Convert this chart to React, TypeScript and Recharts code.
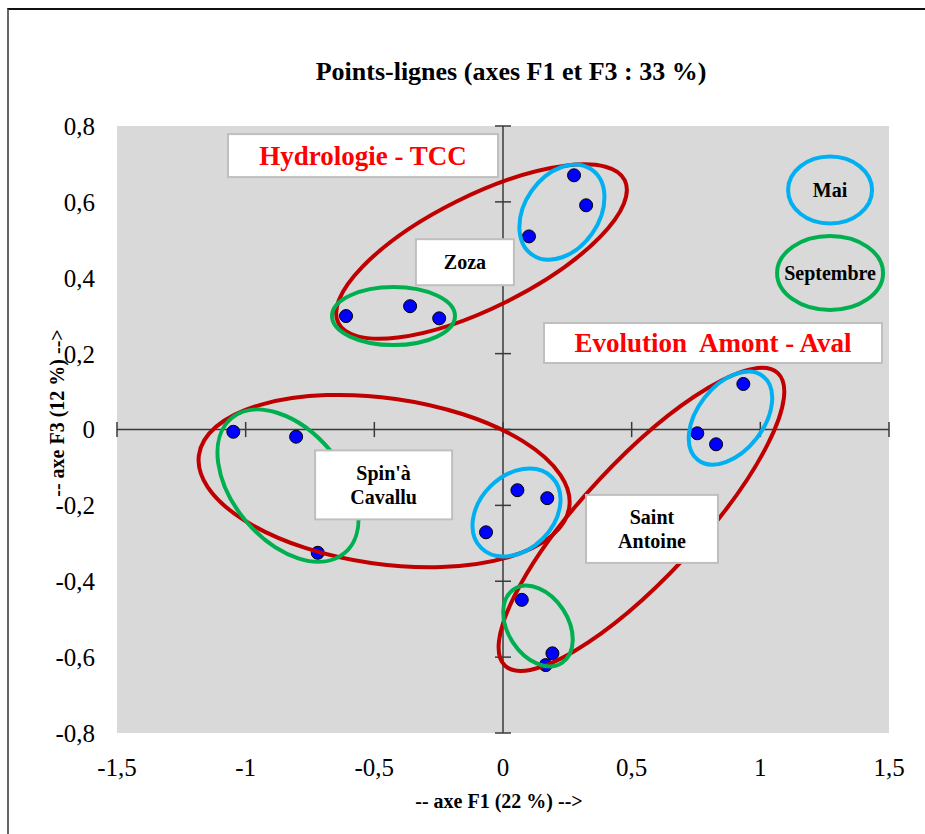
import { ReferenceArea, ReferenceDot, ReferenceLine, Scatter, ScatterChart, XAxis, YAxis } from 'recharts'

// coordonnées des points-lignes (axe F1, axe F3)
const F1 = [0.276, 0.323, 0.101, -0.61, -0.361, -0.248, 0.934, 0.755, 0.828, -1.048, -0.804, -0.72, 0.056, 0.172, -0.066, 0.073, 0.192, 0.166]
const F3 = [0.67, 0.591, 0.509, 0.299, 0.325, 0.293, 0.12, -0.01, -0.039, -0.006, -0.019, -0.325, -0.16, -0.181, -0.271, -0.449, -0.59, -0.621]

const X_TICKS = [-1.5, -1, -0.5, 0, 0.5, 1, 1.5]
const Y_TICKS = [-0.8, -0.6, -0.4, -0.2, 0, 0.2, 0.4, 0.6, 0.8]

const TITLE = 'Points-lignes (axes F1 et F3 : 33 %)'
const X_TITLE = '-- axe F1 (22 %) -->'
const Y_TITLE = '-- axe F3 (12 %) -->'

const COLORS = {
  plot: '#d9d9d9',
  axis: '#3a3a3a',
  point: '#0000ff',
  red: '#c00000',
  blue: '#00b0f0',
  green: '#00b050',
  boxBorder: '#bfbfbf',
  redText: '#ff0000',
}

const FONT = '"Liberation Serif", "Times New Roman", serif'

// ellipses dessinées par-dessus le graphique (centre en unités d'axe, rayons en px)
const ELLIPSES = [
  { x: -0.0835, y: 0.469, rx: 160, ry: 56, angle: -26.5, color: COLORS.red },
  { x: 0.229, y: 0.573, rx: 52, ry: 37, angle: -55, color: COLORS.blue },
  { x: -0.4255, y: 0.299, rx: 61.5, ry: 29, angle: 0, color: COLORS.green },
  { x: -0.462, y: -0.136, rx: 187, ry: 83, angle: 8, color: COLORS.red },
  { x: -0.8355, y: -0.148, rx: 88, ry: 55, angle: 50, color: COLORS.green },
  { x: 0.0525, y: -0.219, rx: 50, ry: 37, angle: -45, color: COLORS.blue },
  { x: 0.538, y: -0.237, rx: 200, ry: 58, angle: -47, color: COLORS.red },
  { x: 0.884, y: 0.03, rx: 53, ry: 33, angle: -52, color: COLORS.blue },
  { x: 0.136, y: -0.518, rx: 44, ry: 30, angle: 57, color: COLORS.green },
  { x: 1.271, y: 0.631, rx: 42, ry: 33.5, angle: 0, color: COLORS.blue },
  { x: 1.271, y: 0.4125, rx: 53, ry: 37, angle: 0, color: COLORS.green },
]

const BOXES = [
  { x: -0.544, y: 0.722, w: 270, h: 43, lines: ['Hydrologie - TCC'], color: COLORS.redText, size: 27 },
  { x: 0.816, y: 0.228, w: 338, h: 40, lines: ['Evolution\u00a0 Amont - Aval'], color: COLORS.redText, size: 27 },
  { x: -0.148, y: 0.441, w: 98, h: 46, lines: ['Zoza'], color: '#000', size: 20 },
  { x: -0.464, y: -0.146, w: 137, h: 69, lines: ["Spin'à", 'Cavallu'], color: '#000', size: 20 },
  { x: 0.579, y: -0.262, w: 132, h: 68, lines: ['Saint', 'Antoine'], color: '#000', size: 20 },
]

const LEGEND = [
  { x: 1.271, y: 0.631, label: 'Mai' },
  { x: 1.271, y: 0.4125, label: 'Septembre' },
]

const points = F1.map((x, i) => ({ x, y: F3[i] }))

const fmt = (v: number) => String(v).replace('.', ',')

function Dot(props: any) {
  return <circle cx={props.cx} cy={props.cy} r={6.5} fill={COLORS.point} stroke="#000" strokeWidth={1} />
}

export default function App() {
  return (
    <div style={{ position: 'absolute', left: 0, top: 0, width: 925, height: 834, overflow: 'hidden', background: '#fff' }}>
      <div
        style={{
          position: 'absolute',
          left: 7,
          top: 8,
          width: 960,
          height: 900,
          borderTop: '2px solid #111',
          borderLeft: '2px solid #666',
        }}
      />
      <ScatterChart width={925} height={834} margin={{ top: 126, right: 36, bottom: 41, left: 37 }} style={{ position: 'absolute', left: 0, top: 0 }}>
        <XAxis
          type="number"
          dataKey="x"
          domain={[-1.5, 1.5]}
          ticks={X_TICKS}
          tickFormatter={fmt}
          axisLine={false}
          tickLine={false}
          tickSize={0}
          tickMargin={25}
          height={60}
          tick={{ fontSize: 25, fill: '#000', fontFamily: FONT }}
        />
        <YAxis
          type="number"
          dataKey="y"
          domain={[-0.8, 0.8]}
          ticks={Y_TICKS}
          tickFormatter={fmt}
          axisLine={false}
          tickLine={false}
          tickSize={0}
          tickMargin={22}
          width={80}
          tick={{ fontSize: 25, fill: '#000', fontFamily: FONT }}
        />
        <ReferenceArea x1={-1.5} x2={1.5} y1={-0.8} y2={0.8} fill={COLORS.plot} fillOpacity={1} stroke="none" />
        <ReferenceLine x={0} stroke={COLORS.axis} strokeWidth={1.5} />
        <ReferenceLine y={0} stroke={COLORS.axis} strokeWidth={1.5} />
        {X_TICKS.map((t) => (
          <ReferenceLine
            key={'xt' + t}
            segment={[{ x: t, y: -0.02 }, { x: t, y: 0.02 }]}
            stroke={COLORS.axis}
            strokeWidth={1.5}
          />
        ))}
        {Y_TICKS.map((t) => (
          <ReferenceLine
            key={'yt' + t}
            segment={[{ x: -0.031, y: t }, { x: 0.031, y: t }]}
            stroke={COLORS.axis}
            strokeWidth={1.5}
          />
        ))}
        <Scatter data={points} shape={<Dot />} isAnimationActive={false} />
        {ELLIPSES.map((e, i) => (
          <ReferenceDot
            key={'el' + i}
            x={e.x}
            y={e.y}
            ifOverflow="visible"
            shape={(p: any) => (
              <ellipse
                cx={p.cx}
                cy={p.cy}
                rx={e.rx}
                ry={e.ry}
                transform={`rotate(${e.angle} ${p.cx} ${p.cy})`}
                fill="none"
                stroke={e.color}
                strokeWidth={4}
              />
            )}
          />
        ))}
        {BOXES.map((b, i) => (
          <ReferenceDot
            key={'bx' + i}
            x={b.x}
            y={b.y}
            ifOverflow="visible"
            shape={(p: any) => (
              <g>
                <rect
                  x={p.cx - b.w / 2}
                  y={p.cy - b.h / 2}
                  width={b.w}
                  height={b.h}
                  fill="#fff"
                  stroke={COLORS.boxBorder}
                  strokeWidth={2}
                />
                {b.lines.map((line, j) => (
                  <text
                    key={j}
                    x={p.cx}
                    y={p.cy + (j - (b.lines.length - 1) / 2) * (b.size * 1.2)}
                    textAnchor="middle"
                    dominantBaseline="central"
                    fontFamily={FONT}
                    fontWeight="bold"
                    fontSize={b.size}
                    fill={b.color}
                  >
                    {line}
                  </text>
                ))}
              </g>
            )}
          />
        ))}
        {LEGEND.map((l, i) => (
          <ReferenceDot
            key={'lg' + i}
            x={l.x}
            y={l.y}
            ifOverflow="visible"
            shape={(p: any) => (
              <text
                x={p.cx}
                y={p.cy}
                textAnchor="middle"
                dominantBaseline="central"
                fontFamily={FONT}
                fontWeight="bold"
                fontSize={20}
                fill="#000"
              >
                {l.label}
              </text>
            )}
          />
        ))}
      </ScatterChart>
      <div
        style={{
          position: 'absolute',
          left: 511,
          top: 57,
          transform: 'translateX(-50%)',
          whiteSpace: 'nowrap',
          fontFamily: FONT,
          fontWeight: 'bold',
          fontSize: 26,
          lineHeight: '30px',
        }}
      >
        {TITLE}
      </div>
      <div
        style={{
          position: 'absolute',
          left: 499,
          top: 788,
          transform: 'translateX(-50%)',
          whiteSpace: 'nowrap',
          fontFamily: FONT,
          fontWeight: 'bold',
          fontSize: 20,
          lineHeight: '26px',
        }}
      >
        {X_TITLE}
      </div>
      <div
        style={{
          position: 'absolute',
          left: 57,
          top: 413,
          transform: 'translate(-50%, -50%) rotate(-90deg)',
          whiteSpace: 'nowrap',
          fontFamily: FONT,
          fontWeight: 'bold',
          fontSize: 20,
          lineHeight: '26px',
        }}
      >
        {Y_TITLE}
      </div>
    </div>
  )
}
